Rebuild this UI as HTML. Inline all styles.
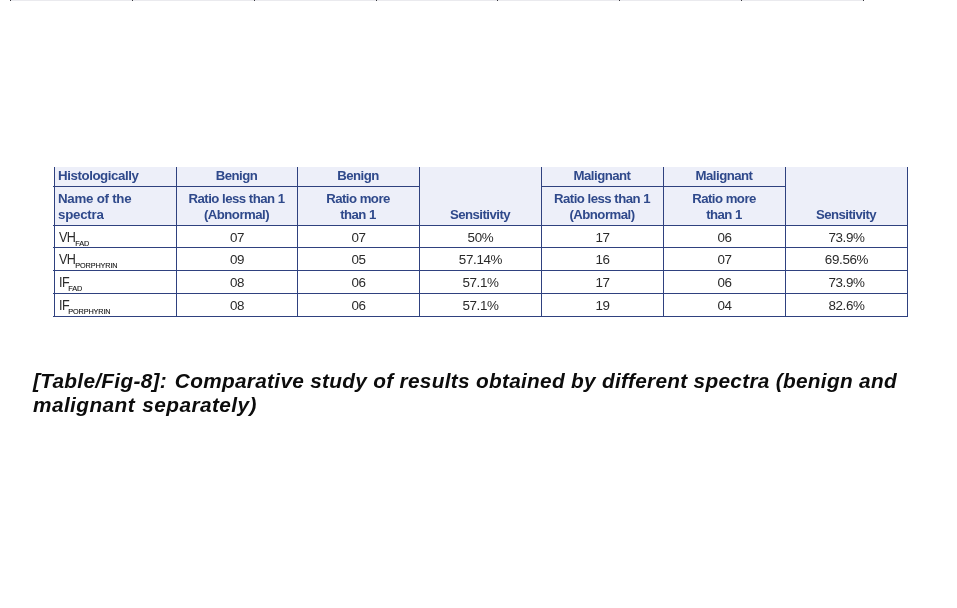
<!DOCTYPE html>
<html><head><meta charset="utf-8">
<style>
html,body{margin:0;padding:0;background:#fff;}
body{width:957px;height:608px;position:relative;overflow:hidden;font-family:"Liberation Sans",sans-serif;}
.topline{position:absolute;left:11px;top:0;width:852px;height:1px;background:#eaeaee;}
.tick{position:absolute;top:0;width:1px;height:1px;background:#3a3a40;}
table{position:absolute;left:54px;top:167px;border-collapse:collapse;table-layout:fixed;width:854px;}
td,th{border:1px solid #2f417f;padding:0;font-size:13.4px;line-height:17px;color:#2a2a2a;text-align:center;font-weight:normal;overflow:hidden;}
tr.h th{background:#edeff9;color:#2f498b;font-weight:bold;font-size:13.2px;letter-spacing:-0.52px;padding-right:1px;}
tr.h1 th{height:17px;padding-bottom:2px;border-top:none;}
tr.h2 th{height:34px;line-height:16px;vertical-align:top;padding-top:4px;}
tr.h th.l{font-size:13.3px;letter-spacing:-0.25px;}
tr.d td{height:22px;letter-spacing:-0.35px;}
tr.d.s td{height:20px;padding-top:1px;}
td.l,th.l{text-align:left;padding-left:3px;}
tr.d td.l{font-size:14px;letter-spacing:-0.6px;padding-left:4px;}
tr.d td.l b{font-weight:normal;position:relative;top:1.6px;display:inline-block;transform:scaleX(0.9);transform-origin:0 50%;}
sub{font-size:7.3px;vertical-align:baseline;position:relative;top:5.5px;letter-spacing:-0.15px;color:#111;-webkit-text-stroke:0.1px #111;margin-left:-1.9px;}
tr.d.s sub{top:5px;}
.ov{position:absolute;left:53px;width:1px;height:1px;background:#2f417f;}
.cap{position:absolute;left:33px;top:369.3px;width:900px;font-size:20.8px;line-height:24px;font-weight:bold;font-style:italic;color:#0c0c0c;letter-spacing:0.3px;white-space:nowrap;}
.cap i{font-style:inherit;margin-right:1.8px;}
.cap .l2{word-spacing:1.1px;letter-spacing:0.42px;}
</style></head><body>
<div class="topline"></div>
<div class="tick" style="left:10px"></div><div class="tick" style="left:132px"></div><div class="tick" style="left:254px"></div><div class="tick" style="left:376px"></div><div class="tick" style="left:497px"></div><div class="tick" style="left:619px"></div><div class="tick" style="left:741px"></div><div class="tick" style="left:863px"></div>
<table>
<colgroup><col style="width:122px"><col style="width:121px"><col style="width:122px"><col style="width:122px"><col style="width:122px"><col style="width:122px"><col style="width:122px"></colgroup>
<tr class="h h1"><th class="l"><span class="u" style="letter-spacing:-0.42px">Histologically</span></th><th>Benign</th><th>Benign</th><th rowspan="2" style="vertical-align:bottom">Sensitivity</th><th>Malignant</th><th>Malignant</th><th rowspan="2" style="vertical-align:bottom">Sensitivity</th></tr>
<tr class="h h2"><th class="l">Name of the<br>spectra</th><th>Ratio less than 1<br>(Abnormal)</th><th>Ratio more<br>than 1</th><th>Ratio less than 1<br>(Abnormal)</th><th>Ratio more<br>than 1</th></tr>
<tr class="d s"><td class="l"><b>VH</b><sub>FAD</sub></td><td>07</td><td>07</td><td>50%</td><td>17</td><td>06</td><td>73.9%</td></tr>
<tr class="d"><td class="l"><b>VH</b><sub>PORPHYRIN</sub></td><td>09</td><td>05</td><td>57.14%</td><td>16</td><td>07</td><td>69.56%</td></tr>
<tr class="d"><td class="l"><b>IF</b><sub>FAD</sub></td><td>08</td><td>06</td><td>57.1%</td><td>17</td><td>06</td><td>73.9%</td></tr>
<tr class="d"><td class="l"><b>IF</b><sub>PORPHYRIN</sub></td><td>08</td><td>06</td><td>57.1%</td><td>19</td><td>04</td><td>82.6%</td></tr>
</table>
<div class="ov" style="top:186px"></div><div class="ov" style="top:225px"></div><div class="ov" style="top:247px"></div><div class="ov" style="top:270px"></div><div class="ov" style="top:293px"></div><div class="ov" style="top:316px"></div>
<div class="cap"><i>[Table/Fig-8]:</i> Comparative study of results obtained by different spectra (benign and<br><span class="l2">malignant separately)</span></div>
</body></html>
